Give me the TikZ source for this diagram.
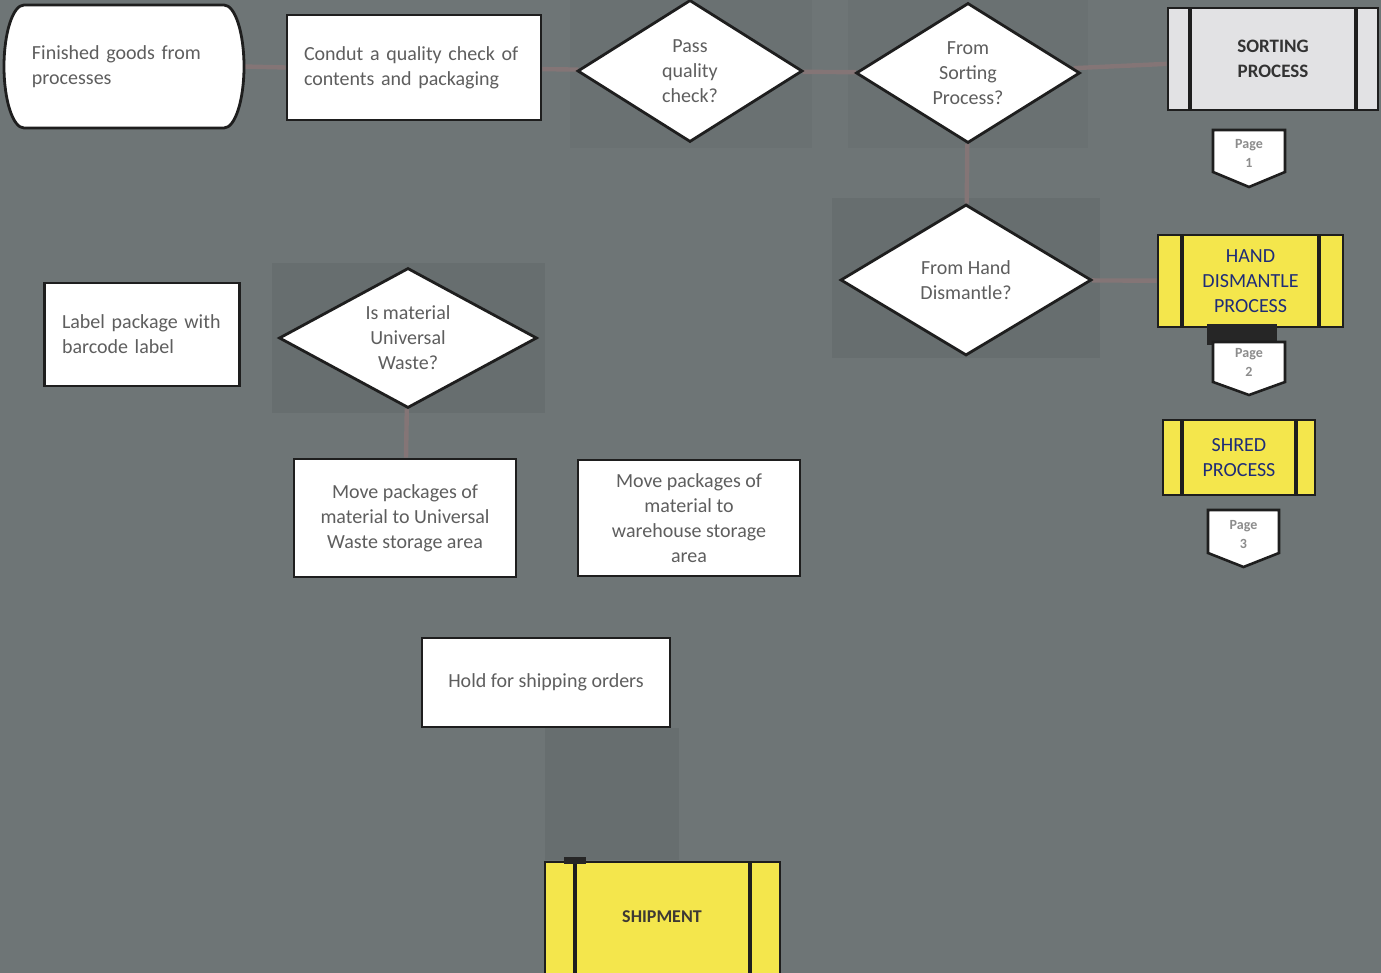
\documentclass[tikz,border=0pt]{standalone}
\usepackage{fontspec}
\setmainfont{Carlito}
\usetikzlibrary{shapes.geometric,calc}
\pgfdeclarelayer{background}
\pgfsetlayers{background,main}
\definecolor{bg}{HTML}{6E7576}
\definecolor{bgdark}{HTML}{676E6F}
\definecolor{bglight}{HTML}{6A7172}
\definecolor{txt}{HTML}{5E5E5E}
\definecolor{conn}{HTML}{847576}
\definecolor{yel}{HTML}{F4E64C}
\definecolor{navy}{HTML}{1E2C78}
\definecolor{sortfill}{HTML}{E2E2E4}
\definecolor{edge}{HTML}{1E1E1E}
\tikzset{
  x=0.5pt, y=-0.5pt,
  basefont/.style={font=\fontsize{10}{12.5}\selectfont, text=txt},
  whitebox/.style={basefont, draw=edge, line width=1.4pt, fill=white, inner sep=0pt, align=center},
  decision/.style={basefont, shape=diamond, draw=edge, line width=1.4pt, fill=white, inner sep=0pt, shape aspect=1.8, align=center},
  predef/.style={draw=edge, line width=1.4pt, inner sep=0pt, align=center,
    path picture={
      \draw[edge, line width=1.6pt] ([xshift=#1]path picture bounding box.north west) -- ([xshift=#1]path picture bounding box.south west);
      \draw[edge, line width=1.6pt] ([xshift=-#1]path picture bounding box.north east) -- ([xshift=-#1]path picture bounding box.south east);
    }},
  pagetext/.style={font=\bfseries\fontsize{7}{9.5}\selectfont, text=black!45, inner sep=0pt, align=center, minimum width=36pt},
  pageshape/.style={draw=edge, line width=1.3pt, fill=white},
  connector/.style={draw=conn, line width=2.2pt},
  shade/.style={fill=bgdark, draw=none},
  lightshade/.style={fill=bglight, draw=none},
}
\begin{document}
\begin{tikzpicture}
\useasboundingbox (0,0) rectangle (1381,973);
\clip (0,0) rectangle (1381,973);

% terminator shape
\path[fill=white, draw=edge, line width=1.4pt]
  (24,5) -- (224,5) arc[start angle=90, end angle=-90, x radius=10pt, y radius=30.75pt]
  -- (24,128) arc[start angle=270, end angle=90, x radius=10pt, y radius=30.75pt] -- cycle;
\node[basefont, minimum width=119pt, minimum height=61.5pt, inner sep=0pt, text width=92pt, align=left] (fin) at (124,66.5) {Finished goods from\\processes};

\node[whitebox, minimum width=127pt, minimum height=52.5pt, text width=110pt, align=left] (cond) at (414,67.5) {Condut a quality check of\\contents and packaging};

\node[decision, minimum width=112.5pt, minimum height=71pt] (pass) at (690,71) {Pass\\quality\\check?};
\node[decision, minimum width=112pt, minimum height=70pt] (fsort) at (968,73) {From\\Sorting\\Process?};

\node[predef=11pt, fill=sortfill, minimum width=105pt, minimum height=51pt, font=\bfseries\fontsize{9.5}{12.5}\selectfont, text=black!80] (sort) at (1273,59) {SORTING\\PROCESS};

% page 1
\path[pageshape] (1213,130) -- (1285,130) -- (1285,172) -- (1249,187) -- (1213,172) -- cycle;
\node[pagetext] (p1) at (1249,153) {Page\\1};

\node[decision, minimum width=125.5pt, minimum height=75.5pt] (fhand) at (966,280) {From Hand\\Dismantle?};

\node[predef=12pt, fill=yel, minimum width=92.5pt, minimum height=46pt, font=\fontsize{10}{12.5}\selectfont, text=navy] (hand) at (1250.5,281) {HAND\\DISMANTLE\\PROCESS};
\fill[black!85] (1207,324) rectangle (1277,345);

% page 2
\path[pageshape] (1213,342) -- (1285,342) -- (1285,382) -- (1249,395) -- (1213,382) -- cycle;
\node[pagetext] (p2) at (1249,362) {Page\\2};

\node[predef=9.5pt, fill=yel, minimum width=76pt, minimum height=37.5pt, font=\fontsize{10}{12.5}\selectfont, text=navy] (shred) at (1239,457.5) {SHRED\\PROCESS};

% page 3
\path[pageshape] (1208,510) -- (1279,510) -- (1279,553) -- (1243.5,567) -- (1208,553) -- cycle;
\node[pagetext] (p3) at (1243.5,535) {Page\\3};

\node[whitebox, minimum width=97.5pt, minimum height=51.5pt, text width=80pt, align=left] (lab) at (142,334.5) {Label package with\\barcode label};

\node[decision, minimum width=129pt, minimum height=70pt] (isuw) at (408,338) {Is material\\Universal\\Waste?};

\node[whitebox, minimum width=111pt, minimum height=59pt] (mvuw) at (405,518) {Move packages of\\material to Universal\\Waste storage area};
\node[whitebox, minimum width=111pt, minimum height=58pt] (mvwh) at (689,518) {Move packages of\\material to\\warehouse storage\\area};

\node[whitebox, minimum width=124pt, minimum height=44.5pt] (hold) at (546,682.5) {Hold for shipping orders};

\node[predef=15pt, fill=yel, minimum width=117.5pt, minimum height=62pt] (ship) at (662.5,924) {};
\node[font=\bfseries\fontsize{9}{11}\selectfont, text=black!70!yellow!40!black, inner sep=0pt] (shiptxt) at (662,917) {SHIPMENT};
\fill[black!85] (564,857) rectangle (586,864);

\begin{pgfonlayer}{background}
  \fill[bg] (0,0) rectangle (1381,973);
  \path[lightshade] (570,0) rectangle (812,148);
  \path[lightshade] (848,0) rectangle (1088,148);
  \path[shade] (832,198) rectangle (1100,358);
  \path[shade] (272,263) rectangle (545,413);
  \path[shade] (545,728) rectangle (679,860);
  \draw[connector] (fin.east) -- (cond.west);
  \draw[connector] (cond) -- (pass);
  \draw[connector] (pass) -- (fsort);
  \draw[connector] (fsort) -- (sort);
  \draw[connector] (fsort) -- (fhand);
  \draw[connector] (fhand) -- (hand);
  \draw[connector] (isuw) -- (mvuw);
\end{pgfonlayer}
\end{tikzpicture}
\end{document}
